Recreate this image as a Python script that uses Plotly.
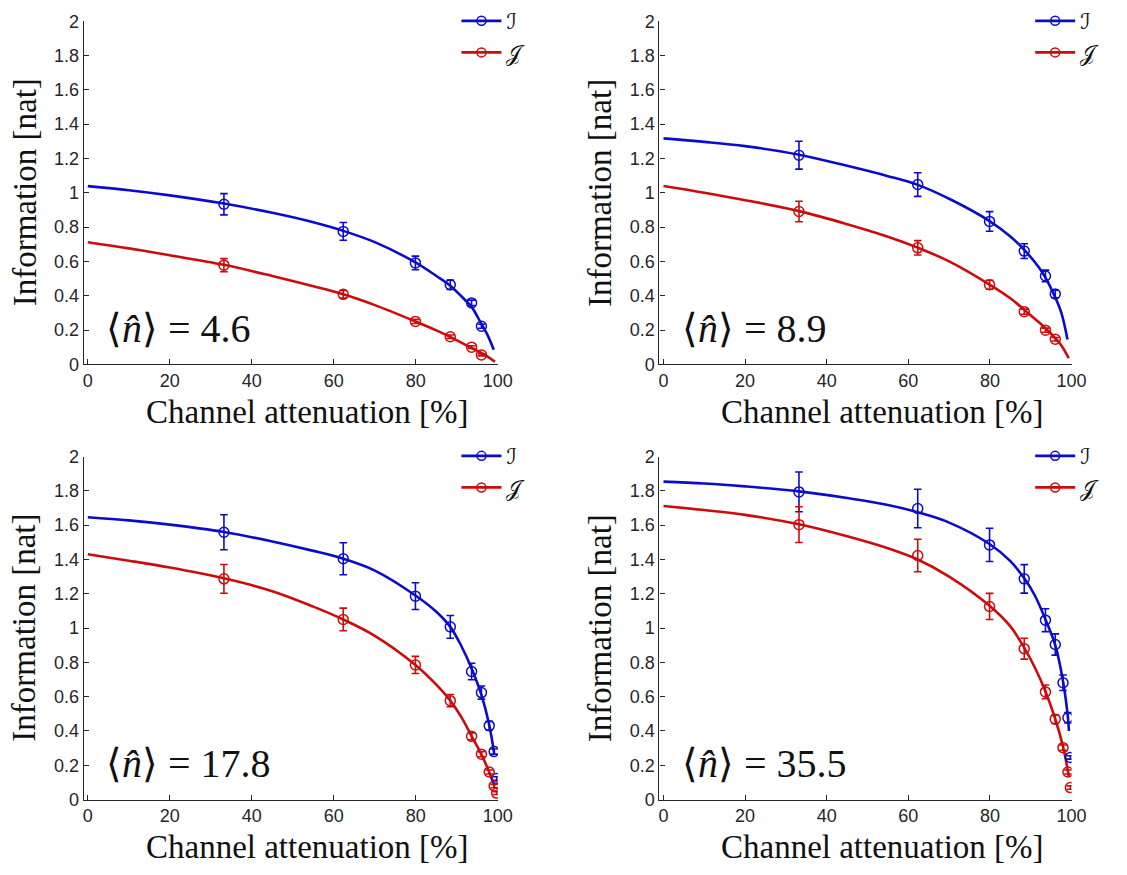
import plotly.graph_objects as go

# ---- data -----------------------------------------------------------------
N_MEAN_LABELS = ["4.6", "8.9", "17.8", "35.5"]

ATT_SHORT = [33.2, 62.3, 79.9, 88.4, 93.6, 96.0]
ATT_LONG = [33.2, 62.3, 79.9, 88.4, 93.6, 96.0, 97.9, 99.1, 99.7]

# measured information, panel 1 (<n> = 4.6)
I_1 = [0.933, 0.775, 0.591, 0.464, 0.358, 0.222]
I_1_err = [0.062, 0.052, 0.040, 0.027, 0.016, 0.012]
J_1 = [0.578, 0.408, 0.250, 0.161, 0.100, 0.055]
J_1_err = [0.038, 0.022, 0.012, 0.010, 0.008, 0.006]

# panel 2 (<n> = 8.9)
I_2 = [1.219, 1.048, 0.833, 0.660, 0.515, 0.410]
I_2_err = [0.081, 0.069, 0.057, 0.043, 0.034, 0.022]
J_2 = [0.891, 0.679, 0.464, 0.307, 0.199, 0.146]
J_2_err = [0.060, 0.042, 0.026, 0.015, 0.012, 0.010]

# panel 3 (<n> = 17.8)
I_3 = [1.559, 1.404, 1.186, 1.007, 0.747, 0.624, 0.431, 0.280, 0.123]
I_3_err = [0.102, 0.093, 0.078, 0.066, 0.048, 0.038, 0.025, 0.015, 0.010]
J_3 = [1.287, 1.050, 0.785, 0.577, 0.369, 0.265, 0.161, 0.079, 0.038]
J_3_err = [0.084, 0.066, 0.050, 0.036, 0.020, 0.015, 0.012, 0.010, 0.008]

# panel 4 (<n> = 35.5)
I_4 = [1.794, 1.697, 1.485, 1.287, 1.046, 0.904, 0.681, 0.477, 0.246]
I_4_err = [0.116, 0.112, 0.097, 0.083, 0.067, 0.062, 0.045, 0.030, 0.010]
J_4 = [1.603, 1.423, 1.126, 0.880, 0.628, 0.469, 0.303, 0.161, 0.070]
J_4_err = [0.104, 0.095, 0.076, 0.061, 0.040, 0.025, 0.015, 0.012, 0.010]

# theory curves
FIT_X_1 = [0, 10, 20, 33.2, 45, 55, 62.3, 70, 79.9, 85, 88.4, 92, 93.6, 96, 97.5, 99]
FIT_I_1 = [1.039, 1.015, 0.985, 0.937, 0.883, 0.828, 0.778, 0.712, 0.594, 0.515, 0.458, 0.375, 0.335, 0.235, 0.170, 0.085]
FIT_XJ_1 = [0, 10, 20, 33.2, 45, 55, 62.3, 70, 79.9, 85, 88.4, 92, 93.6, 96, 97.5, 99.3]
FIT_J_1 = [0.712, 0.676, 0.636, 0.580, 0.515, 0.455, 0.408, 0.345, 0.250, 0.198, 0.160, 0.115, 0.095, 0.066, 0.045, 0.015]

FIT_X_2 = [0, 10, 20, 33.2, 45, 55, 62.3, 70, 79.9, 85, 88.4, 92, 93.6, 96, 97.5, 99]
FIT_I_2 = [1.317, 1.297, 1.272, 1.222, 1.157, 1.097, 1.046, 0.965, 0.835, 0.745, 0.667, 0.565, 0.505, 0.390, 0.300, 0.145]
FIT_XJ_2 = [0, 10, 20, 33.2, 45, 55, 62.3, 70, 79.9, 85, 88.4, 92, 93.6, 96, 97.5, 99.3]
FIT_J_2 = [1.039, 1.000, 0.957, 0.893, 0.817, 0.744, 0.680, 0.600, 0.465, 0.385, 0.318, 0.245, 0.210, 0.152, 0.110, 0.036]

FIT_X_3 = [0, 10, 20, 33.2, 45, 55, 62.3, 70, 79.9, 85, 88.4, 91, 93.6, 96, 97.9, 99.1]
FIT_I_3 = [1.646, 1.628, 1.603, 1.560, 1.505, 1.450, 1.404, 1.335, 1.190, 1.095, 1.007, 0.900, 0.765, 0.610, 0.435, 0.270]
FIT_XJ_3 = [0, 10, 20, 33.2, 45, 55, 62.3, 70, 79.9, 85, 88.4, 91, 93.6, 96, 97.9, 99.2]
FIT_J_3 = [1.430, 1.393, 1.353, 1.290, 1.215, 1.125, 1.050, 0.955, 0.785, 0.670, 0.577, 0.485, 0.370, 0.262, 0.160, 0.075]

FIT_X_4 = [0, 10, 20, 33.2, 45, 55, 62.3, 70, 79.9, 85, 88.4, 91, 93.6, 96, 97.9, 99.1, 99.35]
FIT_I_4 = [1.854, 1.843, 1.826, 1.797, 1.758, 1.718, 1.675, 1.615, 1.490, 1.390, 1.290, 1.190, 1.050, 0.900, 0.690, 0.480, 0.400]
FIT_XJ_4 = [0, 10, 20, 33.2, 45, 55, 62.3, 70, 79.9, 85, 88.4, 91, 93.6, 96, 97.9, 99.1, 99.3]
FIT_J_4 = [1.712, 1.688, 1.660, 1.605, 1.535, 1.465, 1.400, 1.300, 1.130, 1.010, 0.885, 0.770, 0.630, 0.470, 0.310, 0.165, 0.135]

X_TICKS = [0, 20, 40, 60, 80, 100]
X_TICK_TEXT = ["0", "20", "40", "60", "80", "100"]
Y_TICKS = [0, 0.2, 0.4, 0.6, 0.8, 1.0, 1.2, 1.4, 1.6, 1.8, 2.0]
Y_TICK_TEXT = ["0", "0.2", "0.4", "0.6", "0.8", "1", "1.2", "1.4", "1.6", "1.8", "2"]

LEGEND_NAMES = ["\u2110", "\U0001D4A5"]

# ---- styling ----------------------------------------------------------------
W, H = 1127, 875
BLUE = "#0b0bcc"
RED = "#cc0b0b"
AXIS_COLOR = "#262626"
SERIF = "Liberation Serif, Times New Roman, serif"
SANS = "Liberation Sans, Arial, sans-serif"

# plot areas in pixels: (left, right, top, bottom)
BOXES = [
    (83.9, 504.0, 10.5, 362.0),
    (667.9, 1086.0, 10.5, 362.0),
    (83.9, 504.0, 456.5, 808.0),
    (667.9, 1086.0, 456.5, 808.0),
]

panels = [
    (ATT_SHORT, I_1, I_1_err, J_1, J_1_err, FIT_X_1, FIT_I_1, FIT_XJ_1, FIT_J_1),
    (ATT_SHORT, I_2, I_2_err, J_2, J_2_err, FIT_X_2, FIT_I_2, FIT_XJ_2, FIT_J_2),
    (ATT_LONG, I_3, I_3_err, J_3, J_3_err, FIT_X_3, FIT_I_3, FIT_XJ_3, FIT_J_3),
    (ATT_LONG, I_4, I_4_err, J_4, J_4_err, FIT_X_4, FIT_I_4, FIT_XJ_4, FIT_J_4),
]

fig = go.Figure()
layout = dict(
    width=W, height=H,
    margin=dict(l=0, r=0, t=0, b=0),
    paper_bgcolor="white", plot_bgcolor="white",
    showlegend=True,
)
annotations = []


def px_x(v):
    return v / W


def px_y(v):
    return 1 - v / H


for k, (att, iv, ie, jv, je, fx, fi, fxj, fj) in enumerate(panels):
    n = k + 1
    xa = "x" if n == 1 else f"x{n}"
    ya = "y" if n == 1 else f"y{n}"
    leg = "legend" if n == 1 else f"legend{n}"
    left, right, top, bottom = BOXES[k]

    axis_common = dict(
        showline=True, linecolor=AXIS_COLOR, linewidth=1.2,
        ticks="inside", ticklen=5, tickwidth=1, tickcolor=AXIS_COLOR,
        showgrid=False, zeroline=False, mirror=False,
        tickfont=dict(family=SANS, size=18, color=AXIS_COLOR),
    )
    layout["xaxis" if n == 1 else f"xaxis{n}"] = dict(
        axis_common, domain=[px_x(left), px_x(right)], range=[-1, 100],
        anchor=ya, tickmode="array", tickvals=X_TICKS, ticktext=X_TICK_TEXT,
    )
    layout["yaxis" if n == 1 else f"yaxis{n}"] = dict(
        axis_common, domain=[px_y(bottom), px_y(top)], range=[0, 2],
        anchor=xa, tickmode="array", tickvals=Y_TICKS, ticktext=Y_TICK_TEXT,
    )

    # fitted curves
    fig.add_trace(go.Scatter(x=fx, y=fi, mode="lines", line=dict(color=BLUE, width=2.6, shape="spline"),
                             xaxis=xa, yaxis=ya, showlegend=False, hoverinfo="skip"))
    fig.add_trace(go.Scatter(x=fxj, y=fj, mode="lines", line=dict(color=RED, width=2.6, shape="spline"),
                             xaxis=xa, yaxis=ya, showlegend=False, hoverinfo="skip"))
    # measurements with error bars
    for vals, errs, col in ((iv, ie, BLUE), (jv, je, RED)):
        fig.add_trace(go.Scatter(
            x=att, y=vals, mode="markers",
            marker=dict(symbol="circle-open", size=10, color=col, line=dict(width=1.5, color=col)),
            error_y=dict(type="data", array=errs, color=col, thickness=1.6, width=3.8),
            xaxis=xa, yaxis=ya, showlegend=False,
        ))
    # legend entries
    for name, col in zip(LEGEND_NAMES, (BLUE, RED)):
        fig.add_trace(go.Scatter(
            x=[None], y=[None], mode="lines+markers", name=name,
            line=dict(color=col, width=2.8),
            marker=dict(symbol="circle-open", size=9, color=col, line=dict(width=1.5, color=col)),
            xaxis=xa, yaxis=ya, legend=leg,
        ))
    layout[leg] = dict(
        x=px_x(right - 42), y=px_y(top - 22), xanchor="left", yanchor="top",
        bgcolor="rgba(0,0,0,0)", borderwidth=0,
        font=dict(family="DejaVu Serif, DejaVu Sans, serif", size=22, color="#111111"),
        itemwidth=40, tracegroupgap=0,
    )

    cx = (left + right) / 2
    cy = (top + bottom) / 2
    annotations.append(dict(
        text="Channel attenuation [%]", xref="paper", yref="paper",
        x=px_x(cx + 17), y=px_y(bottom + 49), xanchor="center", yanchor="middle",
        showarrow=False, font=dict(family=SERIF, size=33, color="#111111"),
    ))
    annotations.append(dict(
        text="Information [nat]", xref="paper", yref="paper",
        x=px_x(left - 60), y=px_y(cy), xanchor="center", yanchor="middle",
        textangle=-90, showarrow=False, font=dict(family=SERIF, size=33, color="#111111"),
    ))
    annotations.append(dict(
        text="\u27e8<i>n\u0302</i>\u27e9 = " + N_MEAN_LABELS[k], xref="paper", yref="paper",
        x=px_x(left + 21), y=px_y(bottom - 37), xanchor="left", yanchor="middle",
        showarrow=False, font=dict(family=SERIF, size=40, color="#111111"),
    ))

layout["annotations"] = annotations
fig.update_layout(**layout)
fig.write_html("out.html")
